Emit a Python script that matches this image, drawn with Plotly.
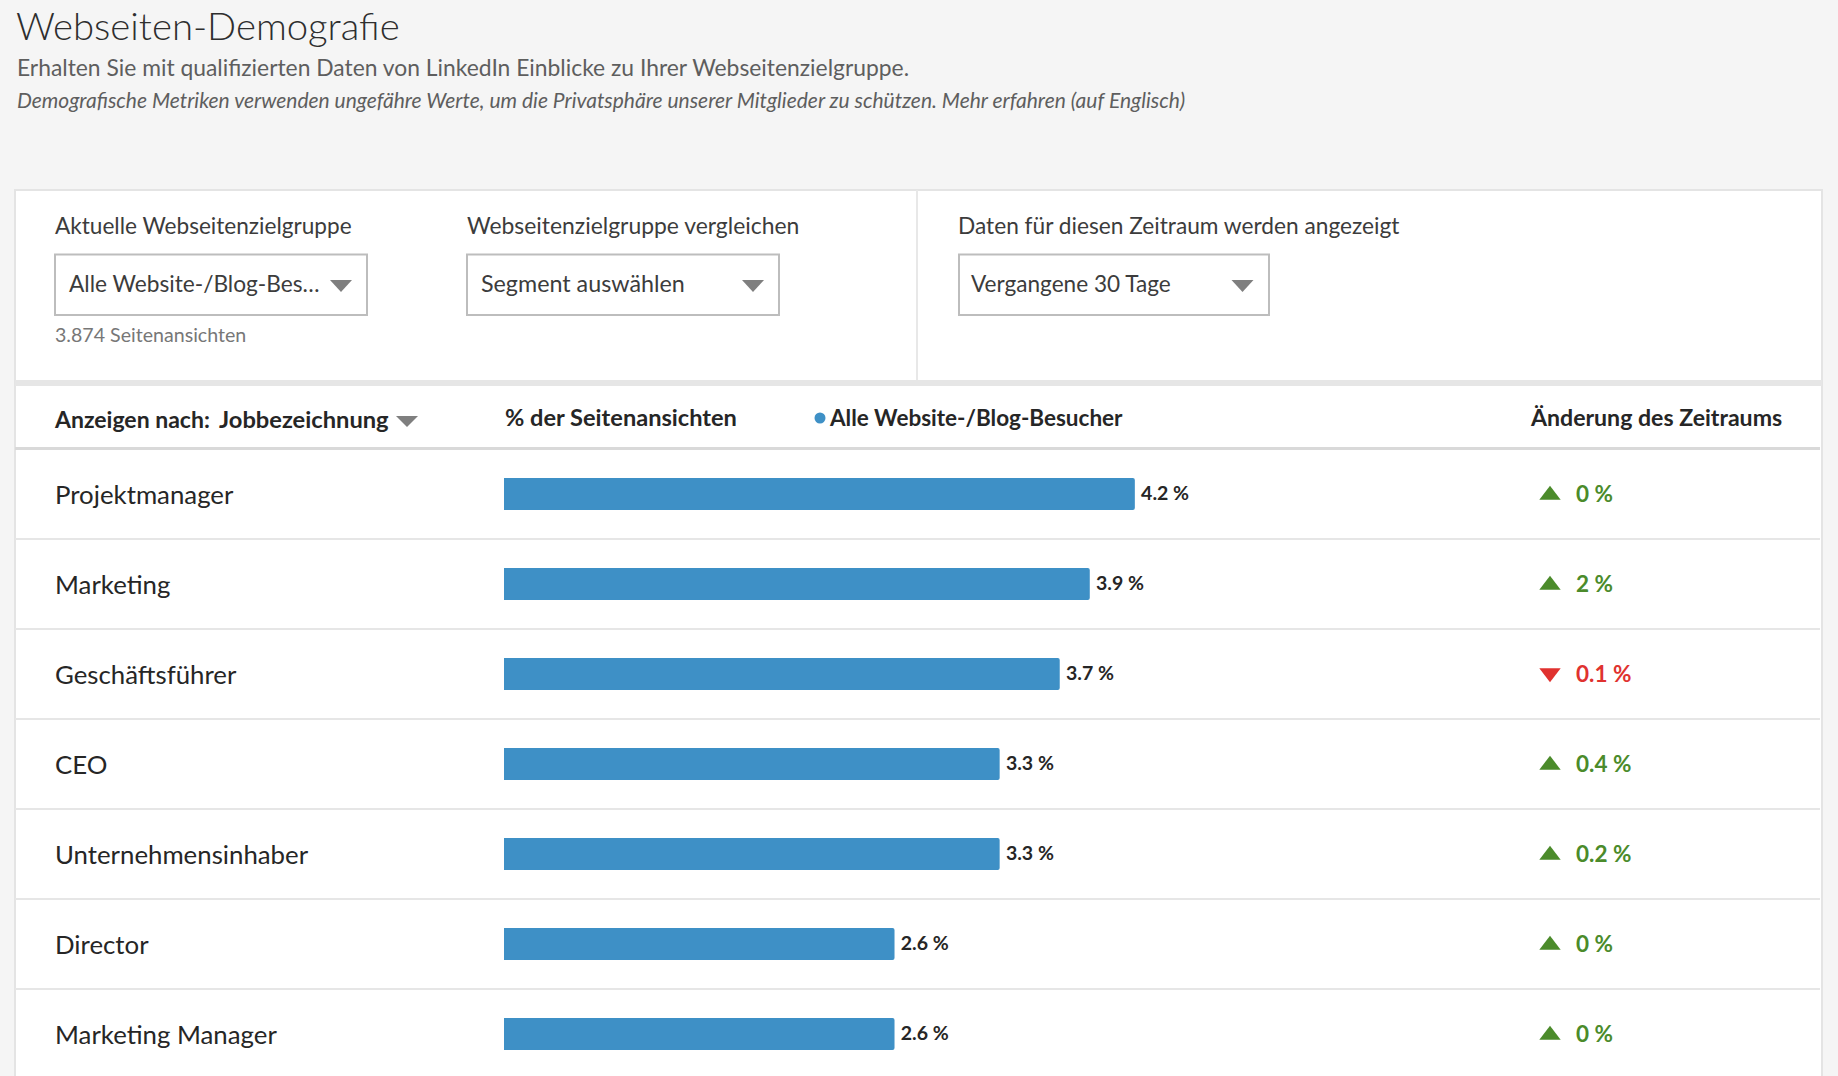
import plotly.graph_objects as go

# ---- data ----
categories = ["Projektmanager", "Marketing", "Geschäftsführer", "CEO",
              "Unternehmensinhaber", "Director", "Marketing Manager"]
page_view_share = [4.2, 3.9, 3.7, 3.3, 3.3, 2.6, 2.6]
period_change = [0, 2, 0.1, 0.4, 0.2, 0, 0]
change_direction = ["up", "up", "down", "up", "up", "up", "up"]

title_text = "Webseiten-Demografie"
subtitle_text = "Erhalten Sie mit qualifizierten Daten von LinkedIn Einblicke zu Ihrer Webseitenzielgruppe."
note_text = ("Demografische Metriken verwenden ungefähre Werte, um die Privatsphäre unserer "
             "Mitglieder zu schützen. Mehr erfahren (auf Englisch)")

# ---- page geometry ----
W, H = 1838, 1076
FONT = "Lato"
DARK = "#262626"
BLUE = "#3e90c6"
GREEN = "#4b8b2b"
RED = "#e0322f"
GRAY = "#7f7f7f"
ZERO_PX, PX_PER_UNIT = 504, 150.2
ROW0_PX, ROW_PX = 494, 90


def px(x):
    return x / W


def py(y):
    return 1 - y / H


def dx(x):
    return (x - ZERO_PX) / PX_PER_UNIT


def ann(text, x, y, size, color=DARK, weight=400, style="normal"):
    return dict(text=text, x=px(x), y=py(y), xref="paper", yref="paper", xanchor="left",
                yanchor="middle", showarrow=False, borderpad=0,
                font=dict(family=FONT, size=size, color=color, weight=weight, style=style))


def rect(x0, y0, x1, y1, fill, line=None, lw=0):
    return dict(type="rect", xref="paper", yref="paper", x0=px(x0), x1=px(x1), y0=py(y0), y1=py(y1),
                fillcolor=fill, line=dict(color=line or fill, width=lw), layer="below")


def caret(cx, y0, y1, half=11):
    path = f"M {px(cx - half)} {py(y0)} L {px(cx + half)} {py(y0)} L {px(cx)} {py(y1)} Z"
    return dict(type="path", path=path, xref="paper", yref="paper", fillcolor=GRAY,
                line=dict(width=0), layer="below")


def row_axis(shift_px=0, overlay=True):
    """Category axis for the rows; shift_px moves what is drawn on it down by that many pixels."""
    axis = dict(type="category", categoryorder="array", categoryarray=categories,
                range=[(H - ROW0_PX - shift_px) / ROW_PX, (-ROW0_PX - shift_px) / ROW_PX],
                visible=False, fixedrange=True)
    if overlay:
        axis["overlaying"] = "y"
    return axis


fig = go.Figure()

fig.add_trace(go.Bar(
    y=categories, x=page_view_share, orientation="h", width=0.355,
    marker=dict(color=BLUE, line=dict(width=0), cornerradius=2),
    hovertemplate="%{y}: %{x} %<extra></extra>",
))

fig.add_trace(go.Scatter(
    y=categories, x=page_view_share, mode="text", text=[f"\u00a0{v}\u00a0%" for v in page_view_share],
    textposition="middle right", cliponaxis=False, hoverinfo="skip", yaxis="y5", xaxis="x2",
    textfont=dict(family=FONT, size=19.5, color=DARK, weight=700),
))

fig.add_trace(go.Scatter(
    y=categories, x=[dx(55)] * len(categories), mode="text", text=categories, yaxis="y2",
    textposition="middle right", textfont=dict(family=FONT, size=25.8, color=DARK),
    hoverinfo="skip", cliponaxis=False,
))

change_colors = [GREEN if d == "up" else RED for d in change_direction]

for direction, symbol, axis_name in [("up", "triangle-up", "y5"), ("down", "triangle-down", "y4")]:
    rows = [c for c, d in zip(categories, change_direction) if d == direction]
    fig.add_trace(go.Scatter(
        y=rows, x=[dx(1550)] * len(rows), mode="markers", yaxis=axis_name,
        marker=dict(symbol=symbol, size=18.5, color=GREEN if direction == "up" else RED, line=dict(width=0)),
        hoverinfo="skip", cliponaxis=False,
    ))

fig.add_trace(go.Scatter(
    y=categories, x=[dx(1576)] * len(categories), mode="text", yaxis="y3",
    text=[f"{v}\u00a0%" for v in period_change], textposition="middle right",
    textfont=dict(family=FONT, size=22.5, color=change_colors, weight=700),
    hoverinfo="skip", cliponaxis=False,
))

shapes = [
    rect(15, 190, 1822, 1090, "#ffffff", "#e4e4e4", 2),
    rect(916, 190, 918, 380, "#e8e8e8"),
    rect(15, 380, 1822, 386, "#e6e6e6"),
    rect(15, 447, 1820, 450, "#d9d9d9"),
]
for i in range(1, 7):
    y = ROW0_PX + ROW_PX * (i - 0.5)
    shapes.append(rect(15, y - 1, 1820, y + 1, "#e6e6e6"))
for x0, x1, cx in [(55, 367, 341), (467, 779, 753), (959, 1269, 1242.5)]:
    shapes.append(rect(x0, 254.5, x1, 315, "#ffffff", "#bdbdbd", 2))
    shapes.append(caret(cx, 280, 292))
shapes.append(caret(407, 416, 427))
shapes.append(dict(type="circle", xref="paper", yref="paper", x0=px(814.5), x1=px(825.5),
                   y0=py(412.5), y1=py(423.5), fillcolor=BLUE, line=dict(width=0), layer="below"))

annotations = [
    ann(title_text, 15, 25, 38.3, "#2e2e2e", 300),
    ann(subtitle_text, 16, 66.5, 22.85, "#5e5e5e"),
    ann(note_text, 16, 99.5, 21, "#5e5e5e", style="italic"),
    ann("Aktuelle Webseitenzielgruppe", 54, 226, 22.6, "#3c3c3c"),
    ann("Webseitenzielgruppe vergleichen", 466, 225.5, 22.9, "#3c3c3c"),
    ann("Daten für diesen Zeitraum werden angezeigt", 956.5, 226, 22.7, "#3c3c3c"),
    ann("Alle Website-/Blog-Bes…", 68, 283, 22.7, "#3c3c3c"),
    ann("Segment auswählen", 480, 283, 23.3, "#3c3c3c"),
    ann("Vergangene 30 Tage", 969.5, 283, 22.6, "#3c3c3c"),
    ann("3.874 Seitenansichten", 54, 335, 19.6, "#777777"),
    ann("Anzeigen nach:", 53, 419, 23, DARK, 700),
    ann("Jobbezeichnung", 218, 419, 23.7, DARK, 700),
    ann("% der Seitenansichten", 503.5, 417, 23.6, DARK, 700),
    ann("Alle Website-/Blog-Besucher", 828, 417.5, 22.5, DARK, 700),
    ann("Änderung des Zeitraums", 1529, 417, 23.1, DARK, 700),
]

x_range = [dx(0), dx(W)]
fig.update_layout(
    width=W, height=H, margin=dict(l=0, r=0, t=0, b=0, pad=0), autosize=False,
    paper_bgcolor="#f5f5f5", plot_bgcolor="rgba(0,0,0,0)", showlegend=False,
    shapes=shapes, annotations=annotations,
    xaxis=dict(range=x_range, visible=False, fixedrange=True),
    xaxis2=dict(range=[v - 1.5 / PX_PER_UNIT for v in x_range], visible=False,
                fixedrange=True, overlaying="x"),
    yaxis=row_axis(overlay=False),
    yaxis2=row_axis(3.5),
    yaxis3=row_axis(2.5),
    yaxis4=row_axis(-1),
    yaxis5=row_axis(1),
)

fig.write_html("out.html", config=dict(displayModeBar=False),
               post_script="document.body.style.margin='0';document.body.style.overflow='hidden';")
